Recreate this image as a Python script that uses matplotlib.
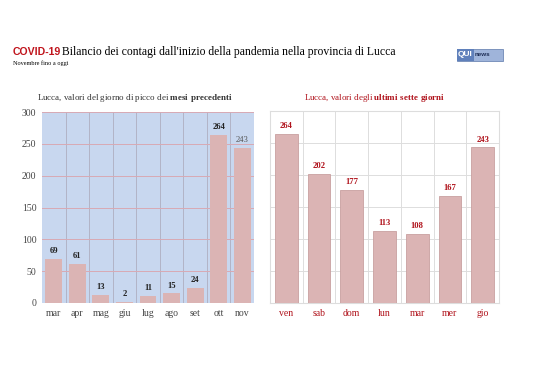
import matplotlib.pyplot as plt
from matplotlib.patches import Rectangle

months = ["mar", "apr", "mag", "giu", "lug", "ago", "set", "ott", "nov"]
month_peaks = [69, 61, 13, 2, 11, 15, 24, 264, 243]
days = ["ven", "sab", "dom", "lun", "mar", "mer", "gio"]
day_values = [264, 202, 177, 113, 108, 167, 243]

serif = "Liberation Serif"
plt.rcParams["mathtext.fontset"] = "custom"
plt.rcParams["mathtext.rm"] = serif
plt.rcParams["mathtext.bf"] = serif + ":bold"
bar_color = "#dbb4b4"
red = "#b0121b"

fig = plt.figure(figsize=(5.38, 3.80), dpi=100)
fig.patch.set_facecolor("white")

# titles
fig.text(13 / 538, 1 - 52 / 380, "COVID-19", color="#c0141c", fontsize=7.6,
         fontweight="bold", family="Liberation Sans", va="center")
fig.text(62 / 538, 1 - 52 / 380, "Bilancio dei contagi dall'inizio della pandemia nella provincia di Lucca",
         fontsize=8.4, family=serif, va="center")
fig.text(13 / 538, 1 - 63 / 380, "Novembre fino a oggi", fontsize=4.5, family=serif, va="center")

# logo
fig.patches.append(Rectangle((457 / 538, 1 - 61 / 380), 46 / 538, 12 / 380,
                             transform=fig.transFigure, fc="#9fb4da", ec="#5c78aa", lw=0.5))
fig.patches.append(Rectangle((457 / 538, 1 - 61 / 380), 17 / 538, 12 / 380,
                             transform=fig.transFigure, fc="#5f80bb", ec="none"))
fig.text(465.5 / 538, 1 - 55 / 380, "QUI", fontsize=6, fontweight="bold", color="white",
         family="Liberation Sans", ha="center", va="center")
fig.text(475 / 538, 1 - 55 / 380, "news", fontsize=4.5, fontweight="bold", color="#1d2d55",
         family="Liberation Sans", ha="left", va="center")

# left chart
ax1 = fig.add_axes([42 / 538, 1 - 303 / 380, 212 / 538, 191 / 380])
ax1.set_facecolor("#c8d7ef")
x1 = range(len(months))
ax1.bar(x1, month_peaks, width=0.72, color=bar_color, zorder=3)
for i, v in enumerate(month_peaks):
    last = i == len(month_peaks) - 1  # the nov label is plain in the original
    ax1.text(i, v + 6, str(v), ha="center", va="bottom", fontsize=6.2,
             fontweight="normal" if last else "bold", family=serif,
             color="#555555" if last else "#222222", zorder=4)
ax1.set_xlim(-0.5, len(months) - 0.5)
ax1.set_ylim(0, 300)
ax1.set_yticks(range(0, 301, 50))
ax1.set_xticks(list(x1))
ax1.set_xticklabels(months)
ax1.set_xticks([i + 0.5 for i in range(len(months) - 1)], minor=True)
ax1.grid(axis="y", color="#d8a9b4", lw=0.7, zorder=1)
ax1.grid(axis="x", which="minor", color="#aeaec0", lw=0.6, zorder=1)
ax1.tick_params(length=0, which="both", labelsize=7, colors="#444444", pad=4)
for lbl in ax1.get_xticklabels() + ax1.get_yticklabels():
    lbl.set_family(serif)
for s in ax1.spines.values():
    s.set_visible(False)
fig.text(135 / 538, 1 - 98 / 380, "Lucca, valori del giorno di picco dei $\\bf{mesi\\ precedenti}$",
         fontsize=6.5, family=serif, color="#333333", ha="center", va="center")

# right chart
ax2 = fig.add_axes([270 / 538, 1 - 303 / 380, 229 / 538, 192 / 380])
x2 = range(len(days))
ax2.bar(x2, day_values, width=0.69, color=bar_color, edgecolor="#c9a0a0", lw=0.6, zorder=3)
for i, v in enumerate(day_values):
    ax2.text(i, v + 6, str(v), ha="center", va="bottom", fontsize=6.2,
             fontweight="bold", family=serif, color=red, zorder=4)
ax2.set_xlim(-0.5, len(days) - 0.5)
ax2.set_ylim(0, 300)
ax2.set_yticks(range(0, 301, 50))
ax2.set_yticklabels([])
ax2.set_xticks(list(x2))
ax2.set_xticklabels(days)
ax2.set_xticks([i + 0.5 for i in range(len(days) - 1)], minor=True)
ax2.grid(axis="y", color="#dddddd", lw=0.7, zorder=1)
ax2.grid(axis="x", which="minor", color="#dddddd", lw=0.7, zorder=1)
ax2.tick_params(length=0, which="both", labelsize=7, colors=red, pad=4)
for lbl in ax2.get_xticklabels():
    lbl.set_family(serif)
for s in ax2.spines.values():
    s.set_color("#dddddd")
fig.text(375 / 538, 1 - 98 / 380, "Lucca, valori degli $\\bf{ultimi\\ sette\\ giorni}$",
         fontsize=6.5, family=serif, color=red, ha="center", va="center")

fig.savefig("out.png", dpi=100)
